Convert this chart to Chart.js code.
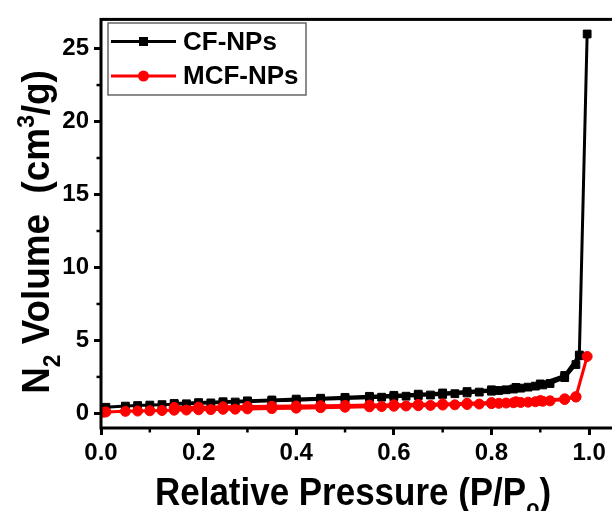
<!DOCTYPE html>
<html>
<head>
<meta charset="utf-8">
<script src="https://cdn.jsdelivr.net/npm/chart.js@4/dist/chart.umd.min.js"></script>
<style>
  html, body { margin: 0; padding: 0; background: #fff; overflow: hidden; }
  #wrap { width: 620px; height: 511px; }
</style>
</head>
<body>
<div id="wrap"><canvas id="chart" width="620" height="511"></canvas></div>
<script>
// CF-NPs, adsorption then desorption branch
const cfAdsP = [0.01, 0.05, 0.075, 0.1, 0.125, 0.15, 0.175, 0.2, 0.225, 0.25, 0.275, 0.3, 0.35, 0.4, 0.45, 0.5, 0.55, 0.575, 0.6, 0.625, 0.65, 0.675, 0.7, 0.725, 0.75, 0.775, 0.8, 0.815, 0.83, 0.845, 0.86, 0.875, 0.89, 0.905, 0.92, 0.95, 0.973, 0.98, 0.996];
const cfAdsV = [0.42, 0.5, 0.54, 0.57, 0.6, 0.63, 0.66, 0.69, 0.72, 0.75, 0.78, 0.8, 0.86, 0.91, 0.97, 1.02, 1.08, 1.11, 1.14, 1.18, 1.22, 1.26, 1.3, 1.35, 1.4, 1.46, 1.52, 1.57, 1.62, 1.67, 1.73, 1.8, 1.87, 1.95, 2.05, 2.45, 3.35, 3.95, 26.0];
const cfDesP = [0.98, 0.95, 0.9, 0.85, 0.8, 0.75, 0.7, 0.65, 0.6, 0.55, 0.5, 0.45, 0.4, 0.35, 0.3, 0.25, 0.2, 0.15];
const cfDesV = [4.0, 2.6, 2.02, 1.78, 1.62, 1.5, 1.4, 1.32, 1.24, 1.17, 1.1, 1.04, 0.98, 0.92, 0.86, 0.8, 0.74, 0.68];

// MCF-NPs
const mcfAdsP = [0.005, 0.01, 0.05, 0.075, 0.1, 0.125, 0.15, 0.175, 0.2, 0.225, 0.25, 0.275, 0.3, 0.35, 0.4, 0.45, 0.5, 0.55, 0.575, 0.6, 0.625, 0.65, 0.675, 0.7, 0.725, 0.75, 0.775, 0.8, 0.815, 0.83, 0.845, 0.86, 0.875, 0.89, 0.905, 0.92, 0.95, 0.973, 0.996];
const mcfAdsV = [0.08, 0.1, 0.14, 0.16, 0.18, 0.2, 0.22, 0.23, 0.25, 0.26, 0.28, 0.29, 0.31, 0.33, 0.36, 0.39, 0.42, 0.45, 0.47, 0.49, 0.51, 0.53, 0.55, 0.57, 0.59, 0.61, 0.64, 0.67, 0.69, 0.71, 0.73, 0.75, 0.77, 0.8, 0.83, 0.86, 0.95, 1.12, 3.9];
const mcfDesP = [0.973, 0.95, 0.9, 0.85, 0.8, 0.75, 0.7, 0.65, 0.6, 0.55, 0.5, 0.45, 0.4, 0.35, 0.3, 0.25, 0.2, 0.15];
const mcfDesV = [1.15, 1.0, 0.88, 0.8, 0.74, 0.69, 0.65, 0.62, 0.59, 0.57, 0.55, 0.53, 0.51, 0.49, 0.47, 0.45, 0.43, 0.41];

const xMajor = [0, 0.2, 0.4, 0.6, 0.8, 1.0];
const xMinor = [0.1, 0.3, 0.5, 0.7, 0.9];
const yMajor = [0, 5, 10, 15, 20, 25];
const yMinor = [2.5, 7.5, 12.5, 17.5, 22.5];

const FONT = '"Liberation Sans", Arial, sans-serif';

function pts(px, vs) {
    return px.map((p, i) => ({ x: p, y: vs[i] }));
}

// text with sub/superscript parts, centred on the current origin
function drawRich(ctx, parts, size) {
    let w = 0;
    parts.forEach(p => {
        ctx.font = 'bold ' + (p.s ? size * 0.62 : size) + 'px ' + FONT;
        p.w = ctx.measureText(p.t).width;
        w += p.w;
    });
    let x0 = -w / 2;
    parts.forEach(p => {
        ctx.font = 'bold ' + (p.s ? size * 0.62 : size) + 'px ' + FONT;
        let dy = 0;
        if (p.s === 'sub') dy = size * 0.28;
        if (p.s === 'sup') dy = -size * 0.4;
        ctx.fillText(p.t, x0, dy);
        x0 += p.w;
    });
}

const decor = {
    id: 'decor',
    afterDraw(chart) {
        const { ctx, chartArea: a, scales: { x, y } } = chart;
        ctx.save();
        ctx.strokeStyle = '#000';
        ctx.lineWidth = 3;
        ctx.strokeRect(a.left, a.top, a.right - a.left, a.bottom - a.top);

        // minor ticks, shorter than the major ones
        ctx.lineWidth = 2.5;
        xMinor.forEach(v => {
            const px = x.getPixelForValue(v);
            ctx.beginPath();
            ctx.moveTo(px, a.bottom);
            ctx.lineTo(px, a.bottom + 4.5);
            ctx.stroke();
        });
        yMinor.forEach(v => {
            const py = y.getPixelForValue(v);
            ctx.beginPath();
            ctx.moveTo(a.left, py);
            ctx.lineTo(a.left - 4.5, py);
            ctx.stroke();
        });

        // axis titles
        ctx.fillStyle = '#000';
        ctx.textBaseline = 'alphabetic';
        ctx.textAlign = 'left';
        ctx.save();
        ctx.translate(353, 505);
        ctx.scale(0.92, 1);
        drawRich(ctx, [{ t: 'Relative Pressure (P/P' }, { t: 'o', s: 'sub' }, { t: ')' }], 38);
        ctx.restore();
        ctx.save();
        ctx.translate(49, 232);
        ctx.rotate(-Math.PI / 2);
        ctx.scale(0.97, 1);
        drawRich(ctx, [{ t: 'N' }, { t: '2', s: 'sub' }, { t: ' Volume  (cm' }, { t: '3', s: 'sup' }, { t: '/g)' }], 38);
        ctx.restore();

        // legend box
        ctx.lineWidth = 1.5;
        ctx.strokeStyle = '#666';
        ctx.strokeRect(108, 23, 198, 72);
        const rows = [41.5, 76];
        chart.data.datasets.forEach((ds, i) => {
            const ly = rows[i];
            ctx.strokeStyle = ds.borderColor;
            ctx.lineWidth = 3;
            ctx.beginPath();
            ctx.moveTo(111, ly);
            ctx.lineTo(176, ly);
            ctx.stroke();
            ctx.fillStyle = ds.backgroundColor;
            if (ds.pointStyle === 'rect') {
                ctx.fillRect(139, ly - 4.5, 9, 9);
            } else {
                ctx.beginPath();
                ctx.arc(143.5, ly, 5.5, 0, Math.PI * 2);
                ctx.fill();
            }
            ctx.fillStyle = '#000';
            ctx.font = 'bold 26px ' + FONT;
            ctx.textBaseline = 'middle';
            ctx.fillText(ds.label, 183, ly + 1);
        });
        ctx.restore();
    }
};

new Chart(document.getElementById('chart'), {
    type: 'scatter',
    data: {
        datasets: [{
            label: 'CF-NPs',
            data: pts(cfAdsP, cfAdsV).concat(pts(cfDesP, cfDesV)),
            showLine: true,
            borderColor: '#000000',
            backgroundColor: '#000000',
            borderWidth: 3,
            pointStyle: 'rect',
            pointRadius: 5.5,
            pointBorderWidth: 1,
            order: 1
        }, {
            label: 'MCF-NPs',
            data: pts(mcfAdsP, mcfAdsV).concat(pts(mcfDesP, mcfDesV)),
            showLine: true,
            borderColor: '#ff0000',
            backgroundColor: '#ff0000',
            borderWidth: 3,
            pointStyle: 'circle',
            pointRadius: 5,
            pointBorderWidth: 1,
            order: 0
        }]
    },
    options: {
        responsive: false,
        animation: false,
        layout: { padding: { left: 0, right: 5, top: 15, bottom: 0 } },
        plugins: {
            legend: { display: false },
            tooltip: { enabled: false }
        },
        scales: {
            x: {
                type: 'linear',
                min: 0,
                max: 1.05,
                afterBuildTicks: s => { s.ticks = xMajor.map(v => ({ value: v })); },
                afterFit: s => { s.height = 83; },
                border: { display: false },
                grid: { drawOnChartArea: false, drawTicks: true, tickLength: 7, tickWidth: 3, tickColor: '#000' },
                ticks: {
                    color: '#000',
                    font: { family: FONT, size: 24, weight: 'bold' },
                    padding: 4,
                    maxRotation: 0,
                    autoSkip: false,
                    callback: v => v.toFixed(1)
                }
            },
            y: {
                type: 'linear',
                min: -1,
                max: 27,
                afterBuildTicks: s => { s.ticks = yMajor.map(v => ({ value: v })); },
                afterFit: s => { s.width = 101; },
                border: { display: false },
                grid: { drawOnChartArea: false, drawTicks: true, tickLength: 7, tickWidth: 3, tickColor: '#000' },
                ticks: {
                    color: '#000',
                    font: { family: FONT, size: 24, weight: 'bold' },
                    padding: 5,
                    autoSkip: false,
                    callback: v => String(v)
                }
            }
        }
    },
    plugins: [decor]
});
</script>
</body>
</html>
